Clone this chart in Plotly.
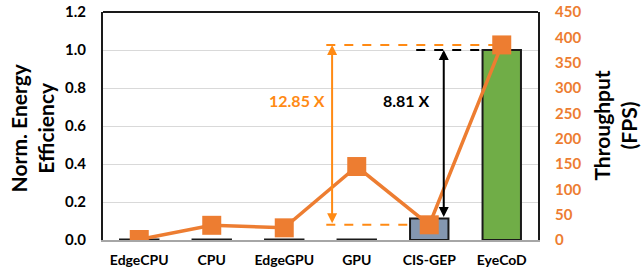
import plotly.graph_objects as go

categories = ["EdgeCPU", "CPU", "EdgeGPU", "GPU", "CIS-GEP", "EyeCoD"]
energy_eff = [0.003, 0.003, 0.003, 0.003, 0.1135, 1.0]
throughput = [1, 29, 24, 145, 30, 385]
bar_colors = ["#8497B0", "#8497B0", "#8497B0", "#8497B0", "#8497B0", "#70AD47"]
left_ticks = [0.0, 0.2, 0.4, 0.6, 0.8, 1.0, 1.2]
right_ticks = list(range(0, 451, 50))

ORANGE = "#ED7D31"
ORANGE2 = "#FF8A14"
FONT = "Lato"

fig = go.Figure()
fig.add_trace(go.Bar(
    x=categories, y=energy_eff, marker=dict(color=bar_colors, line=dict(color="#1a1a1a", width=2)),
    width=0.53, yaxis="y", showlegend=False))
fig.add_trace(go.Scatter(
    x=categories, y=throughput, yaxis="y2", mode="lines+markers",
    line=dict(color=ORANGE, width=3.5),
    marker=dict(symbol="square", size=19, color=ORANGE), showlegend=False))

# annotation guides (orange, throughput axis)
fig.add_shape(type="line", xref="x", yref="y2", x0=2.58, x1=5, y0=throughput[5], y1=throughput[5],
              line=dict(color=ORANGE2, width=2, dash="dash"), layer="below")
fig.add_shape(type="line", xref="x", yref="y2", x0=2.58, x1=4, y0=throughput[4], y1=throughput[4],
              line=dict(color=ORANGE2, width=2, dash="dash"), layer="below")
fig.add_annotation(x=2.66, y=throughput[5], xref="x", yref="y2", ax=2.66, ay=throughput[4],
                   axref="x", ayref="y2", showarrow=True, arrowhead=2, startarrowhead=2,
                   arrowside="end+start", arrowsize=1, arrowwidth=2, arrowcolor=ORANGE2, text="")
# black guides (energy axis)
fig.add_shape(type="line", xref="x", yref="y", x0=3.82, x1=4.7, y0=energy_eff[5], y1=energy_eff[5],
              line=dict(color="#000000", width=2, dash="dash"))
fig.add_annotation(x=4.2, y=energy_eff[5], xref="x", yref="y", ax=4.2, ay=energy_eff[4],
                   axref="x", ayref="y", showarrow=True, arrowhead=2, startarrowhead=2,
                   arrowside="end+start", arrowsize=1, arrowwidth=2, arrowcolor="#000000", text="")
fig.add_annotation(x=2.18, y=0.735, xref="x", yref="y", text="<b>12.85 X</b>", showarrow=False,
                   font=dict(family=FONT, size=16, color=ORANGE2))
fig.add_annotation(x=3.68, y=0.735, xref="x", yref="y", text="<b>8.81 X</b>", showarrow=False,
                   font=dict(family=FONT, size=16, color="#000000"))

# axis titles
fig.add_annotation(x=-0.163, y=0.49, xref="paper", yref="paper", text="<b>Norm. Energy<br>Efficiency</b>",
                   xanchor="center", yanchor="middle",
                   textangle=-90, showarrow=False, font=dict(family=FONT, size=21, color="#000000"))
fig.add_annotation(x=1.176, y=0.5, xref="paper", yref="paper", text="<b>Throughput<br>(FPS)</b>",
                   xanchor="center", yanchor="middle",
                   textangle=-90, showarrow=False, font=dict(family=FONT, size=21, color="#000000"))

fig.update_layout(
    width=642, height=275,
    margin=dict(l=103, r=104, t=12, b=35, autoexpand=False),
    plot_bgcolor="white", paper_bgcolor="white",
    font=dict(family=FONT, color="#000000"),
    bargap=0.47,
    xaxis=dict(tickfont=dict(family=FONT, size=14, color="#000000", weight="bold"),
               showline=True, linecolor="#A6A6A6", linewidth=2, mirror=False, automargin=False,
               ticks="outside", ticklen=6, tickcolor="rgba(0,0,0,0)", range=[-0.5, 5.5]),
    yaxis=dict(range=[0, 1.2], tickvals=left_ticks, ticktext=[f"{v:.1f}" for v in left_ticks],
               tickfont=dict(family=FONT, size=15, color="#000000", weight="bold"),
               showgrid=True, gridcolor="#D9D9D9", gridwidth=1, zeroline=False, automargin=False,
               showline=True, linecolor="#1a1a1a", linewidth=2,
               ticks="outside", ticklen=12, tickcolor="rgba(0,0,0,0)"),
    yaxis2=dict(range=[0, 450], tickvals=right_ticks, overlaying="y", side="right",
                tickfont=dict(family=FONT, size=15, color=ORANGE, weight="bold"),
                showgrid=False, zeroline=False, showline=True, linecolor="#1a1a1a", linewidth=2,
                automargin=False,
                ticks="outside", ticklen=12, tickcolor="rgba(0,0,0,0)"),
)
fig.add_shape(type="line", xref="paper", yref="paper", x0=0, x1=1, y0=1, y1=1,
              line=dict(color="#1a1a1a", width=2))
fig.write_html("out.html", config={"displayModeBar": False},
               post_script="document.body.style.margin='0';document.body.style.overflow='hidden';")
